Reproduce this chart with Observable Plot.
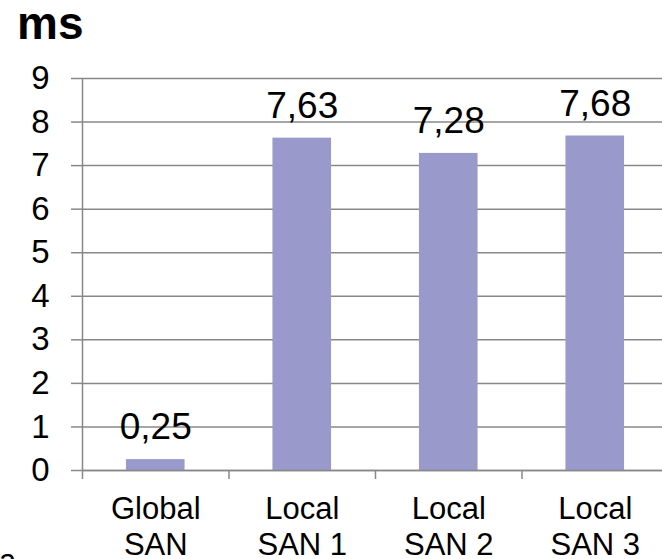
<!DOCTYPE html>
<html>
<head>
<meta charset="utf-8">
<script src="https://cdn.jsdelivr.net/npm/d3@7"></script>
<script src="https://cdn.jsdelivr.net/npm/@observablehq/plot@0.6"></script>
<style>
  html, body { margin: 0; padding: 0; background: #fff; overflow: hidden; }
  #wrap { position: relative; width: 662px; height: 559px; overflow: hidden; background: #fff; font-family: "Liberation Sans", Arial, sans-serif; }
  #title { position: absolute; z-index: 2; left: 17px; top: 0px; font-size: 46px; line-height: 46px; font-weight: bold; color: #000; }
  #frag { position: absolute; z-index: 2; left: -1px; top: 545px; font-size: 31px; line-height: 31px; color: #000; }
  svg { position: absolute; left: 0; top: 0; z-index: 1; }
</style>
</head>
<body>
<div id="wrap">
  <div id="title">ms</div>
  <div id="frag">a</div>
</div>
<script>
const categories = ["Global SAN", "Local SAN 1", "Local SAN 2", "Local SAN 3"];
const values = [0.25, 7.63, 7.28, 7.68];
const yTicks = [0, 1, 2, 3, 4, 5, 6, 7, 8, 9];

const data = categories.map((c, i) => ({ i, category: c, value: values[i], label: values[i].toFixed(2).replace(".", ",") }));
const centers = categories.map((c, i) => i + 0.5);
const bounds = d3.range(categories.length + 1);

const axisColor = "#888888";

const chart = Plot.plot({
  width: 662,
  height: 559,
  marginTop: 78,
  marginLeft: 82,
  marginRight: 0,
  marginBottom: 89,
  style: { fontFamily: "Liberation Sans, Arial, sans-serif", background: "transparent", overflow: "visible" },
  x: { type: "linear", domain: [0, categories.length], range: [82, 668] },
  y: { domain: [0, 9], range: [470, 78] },
  marks: [
    Plot.gridY(yTicks, { stroke: axisColor, strokeOpacity: 1, strokeWidth: 1.5 }),
    Plot.axisY(yTicks, { tickSize: 11, tickPadding: 22, fontSize: 33, stroke: axisColor, strokeWidth: 1.5, fill: "#000", label: null, tickFormat: d => String(d) }),
    Plot.ruleX([0], { stroke: axisColor, strokeWidth: 1.5 }),
    Plot.axisX(bounds, { tickSize: 9, stroke: axisColor, strokeWidth: 1.5, tickFormat: () => "", label: null }),
    Plot.axisX(centers, { tickSize: 0, tickPadding: 23, fontSize: 31, lineHeight: 1.16, fill: "#000", label: null, tickFormat: d => categories[Math.floor(d)].replace(" ", "\n") }),
    Plot.rectY(data, { x1: d => d.i + 0.3, x2: d => d.i + 0.7, y1: 0, y2: "value", fill: "#9999CC" }),
    Plot.ruleY([0], { stroke: axisColor, strokeWidth: 1.5 }),
    Plot.text(data, { x: d => d.i + 0.5, y: "value", text: "label", fontSize: 37, fill: "#000", dy: -32 })
  ]
});
document.getElementById("wrap").appendChild(chart);
</script>
</body>
</html>
